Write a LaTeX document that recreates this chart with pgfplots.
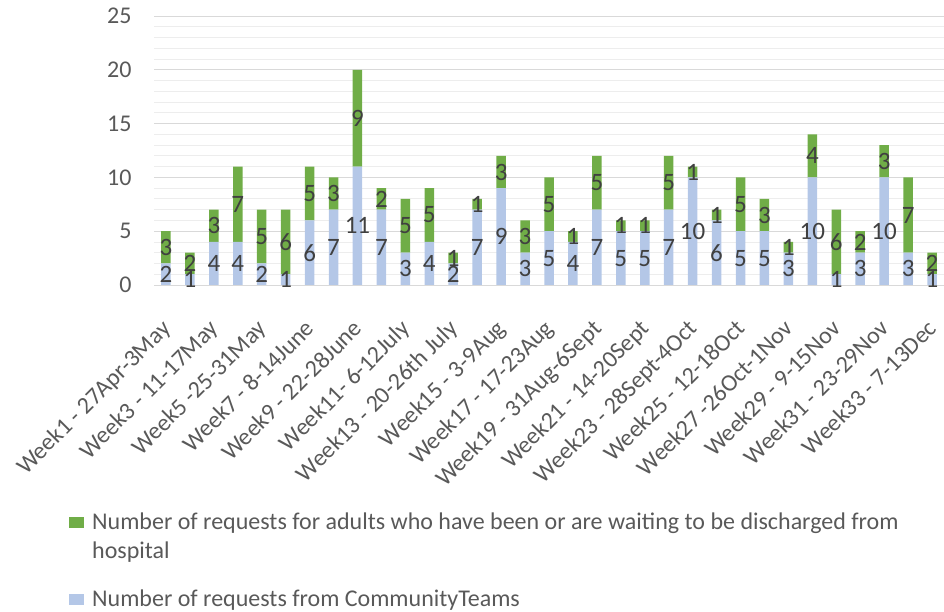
\documentclass[border=0pt]{standalone}
\usepackage{fontspec}
\setmainfont{Carlito}
\usepackage{pgfplots}
\usepackage{pgfplotstable}
\pgfplotsset{compat=1.18}

\definecolor{commblue}{HTML}{B4C7E7}
\definecolor{discgreen}{HTML}{70AD47}
\definecolor{ticktext}{HTML}{595959}
\definecolor{valtext}{HTML}{404040}
\definecolor{majgrid}{HTML}{D9D9D9}
\definecolor{mingrid}{HTML}{EDEDED}

% weekly requests: from community teams (comm) and hospital discharges (disc)
\pgfplotstableread{
x comm disc
0 2 3
1 1 2
2 4 3
3 4 7
4 2 5
5 1 6
6 6 5
7 7 3
8 11 9
9 7 2
10 3 5
11 4 5
12 2 1
13 7 1
14 9 3
15 3 3
16 5 5
17 4 1
18 7 5
19 5 1
20 5 1
21 7 5
22 10 1
23 6 1
24 5 5
25 5 3
26 3 1
27 10 4
28 1 6
29 3 2
30 10 3
31 3 7
32 1 2
}\weekdata

\pgfplotsset{
  weekframe/.style={
    at={(154bp,327bp)}, anchor=south west,
    width=790bp, height=269bp, scale only axis,
    xmin=-0.5, xmax=32.5, ymin=0, ymax=25,
  },
}

\begin{document}
\begin{tikzpicture}
\begin{axis}[
  weekframe,
  ybar stacked, bar width=9.5bp,
  axis line style={draw=none},
  tick style={draw=none},
  major tick length=0pt, minor tick length=0pt,
  ytick={0,5,...,25},
  minor ytick={1,2,3,4,6,7,8,9,11,12,13,14,16,17,18,19,21,22,23,24},
  ymajorgrids, yminorgrids,
  major grid style={majgrid, line width=0.9bp},
  minor grid style={mingrid, line width=0.9bp},
  /pgf/number format/assume math mode=true,
  yticklabel style={font=\fontsize{24bp}{28bp}\selectfont, text=ticktext, xshift=-19bp},
  xtick={0,2,...,32},
  xticklabels={Week1 - 27Apr-3May, Week3 - 11-17May, Week5 -25-31May,
    Week7 - 8-14June, Week9 - 22-28June, Week11- 6-12July,
    Week13 - 20-26th July, Week15 - 3-9Aug, Week17 - 17-23Aug,
    Week19 - 31Aug-6Sept, Week21 - 14-20Sept, Week23 - 28Sept-4Oct,
    Week25 - 12-18Oct, Week27 -26Oct-1Nov, Week29 - 9-15Nov,
    Week31 - 23-29Nov, Week33 - 7-13Dec},
  xticklabel style={font=\fontsize{24bp}{28bp}\selectfont, text=ticktext,
    xshift=-6bp, yshift=-33bp, rotate=45, anchor=north east, inner sep=0pt},
  legend style={at={(-0.1076,-0.838)}, anchor=north west, draw=none, fill=none,
    font=\fontsize{24bp}{29bp}\selectfont, text=ticktext,
    inner sep=0pt, row sep=55bp,
    cells={anchor=base west},
    /tikz/every odd column/.append style={column sep=6bp}},
  legend cell align=left,
  reverse legend,
  legend image code/.code={\fill[#1] (0bp,-6bp) rectangle (15bp,5bp);},
]
\addplot[fill=commblue, draw=none] table[x=x, y=comm]{\weekdata};
\addlegendentry{Number of requests from CommunityTeams}
\addplot[fill=discgreen, draw=none] table[x=x, y=disc]{\weekdata};
\addlegendentry{\parbox[t]{850bp}{\raggedright Number of requests for adults who have been or are waiting to be discharged from\\hospital}}
\end{axis}

% value labels, centred in each stacked segment
\begin{axis}[
  weekframe, hide axis, clip=false,
  nodes near coords, nodes near coords align={center},
  point meta=explicit,
  /pgf/number format/assume math mode=true,
  every node near coord/.append style={font=\fontsize{25bp}{30bp}\selectfont, text=valtext, inner sep=0pt},
]
\addplot[draw=none, mark=none, only marks] table[x=x, y expr=\thisrow{comm}/2, meta=comm]{\weekdata};
\addplot[draw=none, mark=none, only marks] table[x=x, y expr=\thisrow{comm}+\thisrow{disc}/2, meta=disc]{\weekdata};
\end{axis}

\pgfresetboundingbox
\path[use as bounding box] (0,0) rectangle (944bp,612bp);
\end{tikzpicture}
\end{document}
